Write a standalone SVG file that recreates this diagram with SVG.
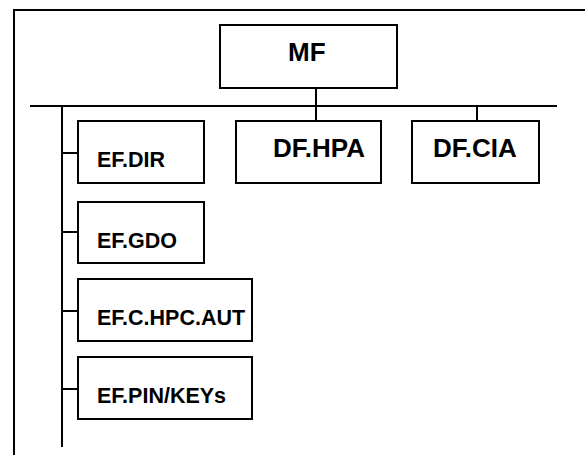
<svg xmlns="http://www.w3.org/2000/svg" width="585" height="455" viewBox="0 0 585 455">
  <style>
    .box { fill: #ffffff; stroke: #000000; stroke-width: 2; }
    .line { fill: none; stroke: #000000; stroke-width: 2; }
    .big { font-family: "Liberation Sans", Arial, sans-serif; font-weight: bold; font-size: 26px; fill: #000000; }
    .small { font-family: "Liberation Sans", Arial, sans-serif; font-weight: bold; font-size: 21.5px; fill: #000000; }
  </style>
  <rect x="0" y="0" width="585" height="455" fill="#ffffff"/>

  <!-- outer frame (top and left edges) -->
  <g id="frame">
    <path class="line" d="M14 455 V10 H585"/>
  </g>

  <!-- connectors -->
  <g id="connectors">
    <line class="line" x1="30" y1="106" x2="557" y2="106"/>
    <line class="line" x1="316" y1="88" x2="316" y2="121"/>
    <line class="line" x1="477" y1="106" x2="477" y2="121"/>
    <line class="line" x1="62" y1="106" x2="62" y2="447"/>
    <line class="line" x1="62" y1="153" x2="78" y2="153"/>
    <line class="line" x1="62" y1="232" x2="78" y2="232"/>
    <line class="line" x1="62" y1="311" x2="78" y2="311"/>
    <line class="line" x1="62" y1="389" x2="78" y2="389"/>
  </g>

  <g id="mf">
    <rect class="box" x="220" y="25" width="177" height="63"/>
    <text class="big" x="288" y="61">MF</text>
  </g>

  <g id="df-hpa">
    <rect class="box" x="236" y="121" width="145" height="62"/>
    <text class="big" x="273" y="157">DF.HPA</text>
  </g>

  <g id="df-cia">
    <rect class="box" x="412" y="121" width="127" height="62"/>
    <text class="big" x="433" y="157">DF.CIA</text>
  </g>

  <g id="ef-dir">
    <rect class="box" x="78" y="121" width="126" height="62"/>
    <text class="small" x="97" y="167">EF.DIR</text>
  </g>

  <g id="ef-gdo">
    <rect class="box" x="78" y="202" width="126" height="61"/>
    <text class="small" x="97" y="248">EF.GDO</text>
  </g>

  <g id="ef-c-hpc-aut">
    <rect class="box" x="78" y="279" width="174" height="62"/>
    <text class="small" x="97" y="325">EF.C.HPC.AUT</text>
  </g>

  <g id="ef-pin-keys">
    <rect class="box" x="78" y="357" width="174" height="62"/>
    <text class="small" x="97" y="403">EF.PIN/KEYs</text>
  </g>
</svg>
